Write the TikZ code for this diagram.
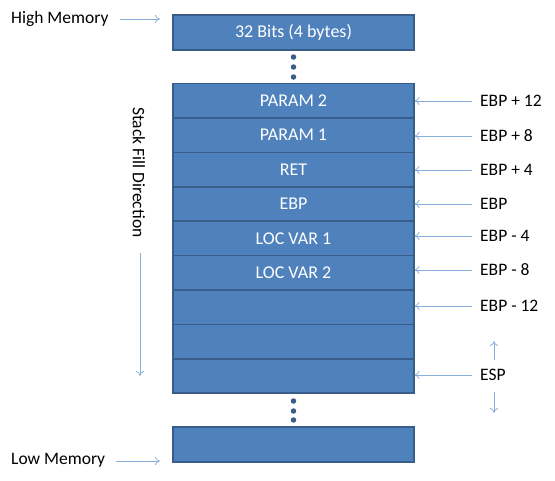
\documentclass[tikz,border=0pt]{standalone}
\usepackage{fontspec}
\setmainfont{Carlito}
\usetikzlibrary{arrows.meta}
\definecolor{boxfill}{HTML}{4F81BD}
\definecolor{boxline}{HTML}{385D8A}
\definecolor{arrowc}{HTML}{8AAEDC}
\begin{document}
\begin{tikzpicture}[x=1pt,y=-1pt,
  cell/.style={draw=boxline,line width=1.6pt,fill=boxfill,text=white,minimum width=241pt,minimum height=34.4pt,inner sep=0pt,outer sep=0pt,font=\fontsize{18}{20}\selectfont},
  lbl/.style={font=\fontsize{17.5}{20}\selectfont,inner sep=0pt,anchor=west},
  ptr/.style={draw=arrowc,line width=0.8pt,-{To[length=5pt,width=8pt]}},
  dot/.style={circle,fill=boxline,minimum size=5.5pt,inner sep=0pt}]
\useasboundingbox (0,0) rectangle (555,480);
% top box
\node[cell,minimum height=35.5pt] (top) at (293.5,32.5) {32 Bits (4 bytes)};
\node[dot] (d1) at (293.5,57) {};
\node[dot] (d2) at (293.5,67) {};
\node[dot] (d3) at (293.5,77) {};
% stack
\node[cell,anchor=north] (r1) at (293.5,83.5) {PARAM 2};
\node[cell,anchor=north] (r2) at (r1.south) {PARAM 1};
\node[cell,anchor=north] (r3) at (r2.south) {RET};
\node[cell,anchor=north] (r4) at (r3.south) {EBP};
\node[cell,anchor=north] (r5) at (r4.south) {LOC VAR 1};
\node[cell,anchor=north] (r6) at (r5.south) {LOC VAR 2};
\node[cell,anchor=north] (r7) at (r6.south) {};
\node[cell,anchor=north] (r8) at (r7.south) {};
\node[cell,anchor=north] (r9) at (r8.south) {};
\node[dot] (d4) at (293.5,401) {};
\node[dot] (d5) at (293.5,411) {};
\node[dot] (d6) at (293.5,420) {};
\node[cell,minimum height=35pt] (bot) at (293.5,444.5) {};
% left labels
\node[lbl] (hm) at (11,19) {High Memory};
\node[lbl] (lm) at (11,460) {Low Memory};
\coordinate (hms) at (120,19);
\coordinate (hme) at (160,19);
\coordinate (lms) at (116,461);
\coordinate (lme) at (160,461);
\draw[ptr] (hms) -- (hme);
\draw[ptr] (lms) -- (lme);
% stack fill direction
\node[lbl,rotate=-90,anchor=west] (sfd) at (139,107) {Stack Fill Direction};
\coordinate (sfs) at (140,253);
\coordinate (sfe) at (140,376);
\draw[ptr] (sfs) -- (sfe);
% right labels
\node[lbl] (e1) at (480,101) {EBP + 12};
\node[lbl] (e2) at (480,136) {EBP + 8};
\node[lbl] (e3) at (480,170) {EBP + 4};
\node[lbl] (e4) at (480,204) {EBP};
\node[lbl] (e5) at (480,236) {EBP - 4};
\node[lbl] (e6) at (480,270) {EBP - 8};
\node[lbl] (e7) at (480,306) {EBP - 12};
\node[lbl] (e8) at (480,375) {ESP};
\foreach \i/\y in {1/101,2/136,3/170,4/204,5/236,6/270,7/306,8/375}{
  \draw[ptr] (472,\y) -- (414.5,\y);
}
\coordinate (ua1) at (494,360);
\coordinate (ua2) at (494,341);
\coordinate (da1) at (494,392);
\coordinate (da2) at (494,413);
\draw[ptr] (ua1) -- (ua2);
\draw[ptr] (da1) -- (da2);
\end{tikzpicture}
\end{document}
